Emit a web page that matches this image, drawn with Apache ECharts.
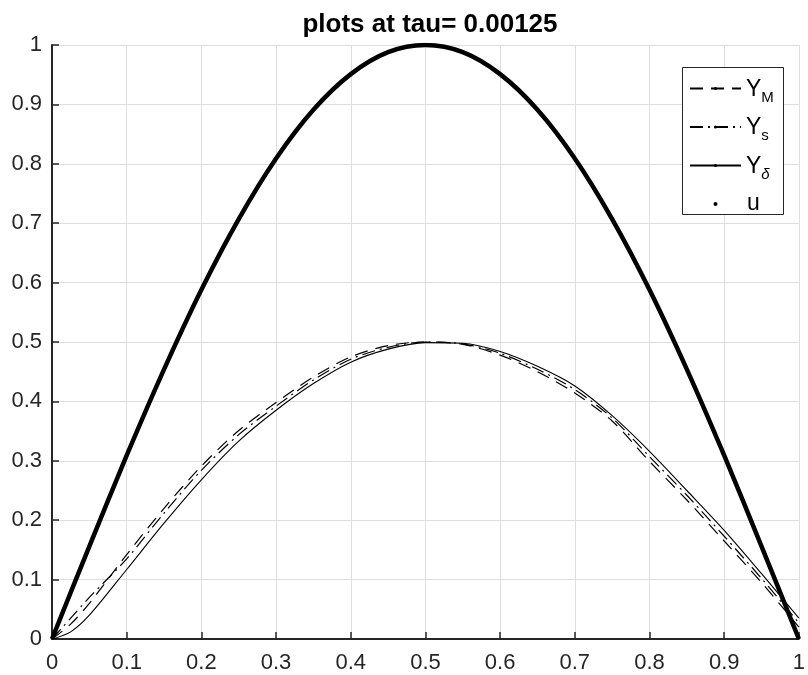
<!DOCTYPE html>
<html>
<head>
<meta charset="utf-8">
<script src="https://cdn.jsdelivr.net/npm/echarts@6/dist/echarts.min.js"></script>
<style>
  html, body { margin: 0; padding: 0; background: #fff; }
  #main { width: 808px; height: 675px; }
</style>
</head>
<body>
<div id="main"></div>
<script>
// x positions of the sampled points
var xsU = [0, 0.05, 0.1, 0.15, 0.2, 0.25, 0.3, 0.35, 0.4, 0.45, 0.5,
  0.55, 0.6, 0.65, 0.7, 0.75, 0.8, 0.85, 0.9, 0.95, 1];
var xsY = [0, 0.025, 0.05, 0.1, 0.15, 0.2, 0.25, 0.3, 0.35, 0.4, 0.45, 0.5,
  0.55, 0.6, 0.65, 0.7, 0.75, 0.8, 0.85, 0.9, 0.95, 1];

// values
var uVals = [0, 0.156, 0.309, 0.454, 0.588, 0.707, 0.809, 0.891, 0.951, 0.988, 1,
  0.988, 0.951, 0.891, 0.809, 0.707, 0.588, 0.454, 0.309, 0.156, 0];
var yM = [0, 0.025, 0.06, 0.142, 0.22, 0.291, 0.351, 0.398, 0.441, 0.475, 0.494, 0.5,
  0.496, 0.478, 0.45, 0.414, 0.367, 0.299, 0.234, 0.165, 0.095, 0.02];
var yS = [0, 0.035, 0.07, 0.135, 0.212, 0.284, 0.344, 0.392, 0.436, 0.471, 0.491, 0.5,
  0.497, 0.481, 0.454, 0.42, 0.372, 0.307, 0.242, 0.173, 0.102, 0.027];
var yD = [0, 0.012, 0.04, 0.117, 0.195, 0.268, 0.333, 0.385, 0.43, 0.466, 0.488, 0.499,
  0.498, 0.484, 0.459, 0.426, 0.376, 0.316, 0.25, 0.183, 0.11, 0.035];

var legendLabels = {
  'Y_M': '{y|Y}{sub|M}',
  'Y_s': '{y|Y}{sub|s}',
  'Y_\u03b4': '{y|Y}{subi|\u03b4}',
  'u': '{u|u}'
};

function pairs(xs, ys) {
  return xs.map(function (x, i) { return [x, ys[i]]; });
}

var font = 'Liberation Sans, Arial, Helvetica, sans-serif';
var axisColor = '#262626';

var myChart = echarts.init(document.getElementById('main'));

var option = {
  animation: false,
  backgroundColor: '#fff',
  title: {
    text: 'plots at tau= 0.00125',
    left: 425,
    textAlign: 'center',
    top: 7,
    textStyle: { fontFamily: font, fontSize: 26, fontWeight: 'bold', color: '#000' }
  },
  grid: { left: 52, right: 5, top: 45, bottom: 36, containLabel: false },
  // legend box frame
  graphic: [
    {
      type: 'rect',
      z: 3,
      shape: { x: 682.5, y: 67.5, width: 101, height: 147 },
      style: { fill: '#fff', stroke: axisColor, lineWidth: 1 }
    }
  ],
  legend: {
    orient: 'vertical',
    left: 682,
    top: 67,
    padding: [3, 10, 0, 7],
    itemWidth: 51,
    itemHeight: 4,
    itemGap: 3.5,
    z: 10,
    selectedMode: false,
    data: [
      { name: 'Y_M' },
      { name: 'Y_s' },
      { name: 'Y_\u03b4' },
      { name: 'u', icon: 'circle' }
    ],
    formatter: function (name) { return legendLabels[name]; },
    textStyle: {
      fontFamily: font,
      color: '#000',
      lineHeight: 37,
      rich: {
        y: { fontFamily: font, fontSize: 23, color: '#000', lineHeight: 33, padding: [0, 0, 4, 0], verticalAlign: 'bottom' },
        sub: { fontFamily: font, fontSize: 15, color: '#000', verticalAlign: 'bottom', lineHeight: 17, padding: [20, 0, 0, 0] },
        subi: { fontFamily: font, fontSize: 15, fontStyle: 'italic', color: '#000', verticalAlign: 'bottom', lineHeight: 17, padding: [20, 0, 0, 0] },
        u: { fontFamily: font, fontSize: 23, color: '#000', lineHeight: 37, padding: [0, 0, 0, 1] }
      }
    }
  },
  xAxis: {
    type: 'value',
    min: 0,
    max: 1,
    interval: 0.1,
    axisLine: { show: true, onZero: false, lineStyle: { color: axisColor, width: 2 } },
    axisTick: { show: true, inside: true, length: 7, lineStyle: { color: axisColor, width: 1.5 } },
    axisLabel: { fontFamily: font, fontSize: 22, color: axisColor, margin: 13 },
    splitLine: { show: true, lineStyle: { color: '#dedede', width: 1 } }
  },
  yAxis: {
    type: 'value',
    min: 0,
    max: 1,
    interval: 0.1,
    axisLine: { show: true, onZero: false, lineStyle: { color: axisColor, width: 2 } },
    axisTick: { show: true, inside: true, length: 7, lineStyle: { color: axisColor, width: 1.5 } },
    axisLabel: { fontFamily: font, fontSize: 22, color: axisColor, margin: 10 },
    splitLine: { show: true, lineStyle: { color: '#dedede', width: 1 } }
  },
  series: [
    {
      name: 'Y_M',
      type: 'line',
      smooth: 0.3,
      showSymbol: false,
      symbol: 'none',
      data: pairs(xsY, yM),
      lineStyle: { color: '#000', width: 1.2, type: [13, 8] },
      itemStyle: { color: '#000' }
    },
    {
      name: 'Y_s',
      type: 'line',
      smooth: 0.3,
      showSymbol: false,
      symbol: 'none',
      data: pairs(xsY, yS),
      lineStyle: { color: '#000', width: 1.2, type: [13, 5, 2, 5] },
      itemStyle: { color: '#000' }
    },
    {
      name: 'Y_\u03b4',
      type: 'line',
      smooth: 0.3,
      showSymbol: false,
      symbol: 'none',
      data: pairs(xsY, yD),
      lineStyle: { color: '#000', width: 1.1 },
      itemStyle: { color: '#000' }
    },
    {
      name: 'u',
      type: 'line',
      smooth: 0.3,
      showSymbol: false,
      symbol: 'none',
      data: pairs(xsU, uVals),
      lineStyle: { color: '#000', width: 4.5 },
      itemStyle: { color: '#000' }
    }
  ]
};

myChart.setOption(option);
window.addEventListener('resize', function () {
  myChart.resize();
});
</script>
</body>
</html>
